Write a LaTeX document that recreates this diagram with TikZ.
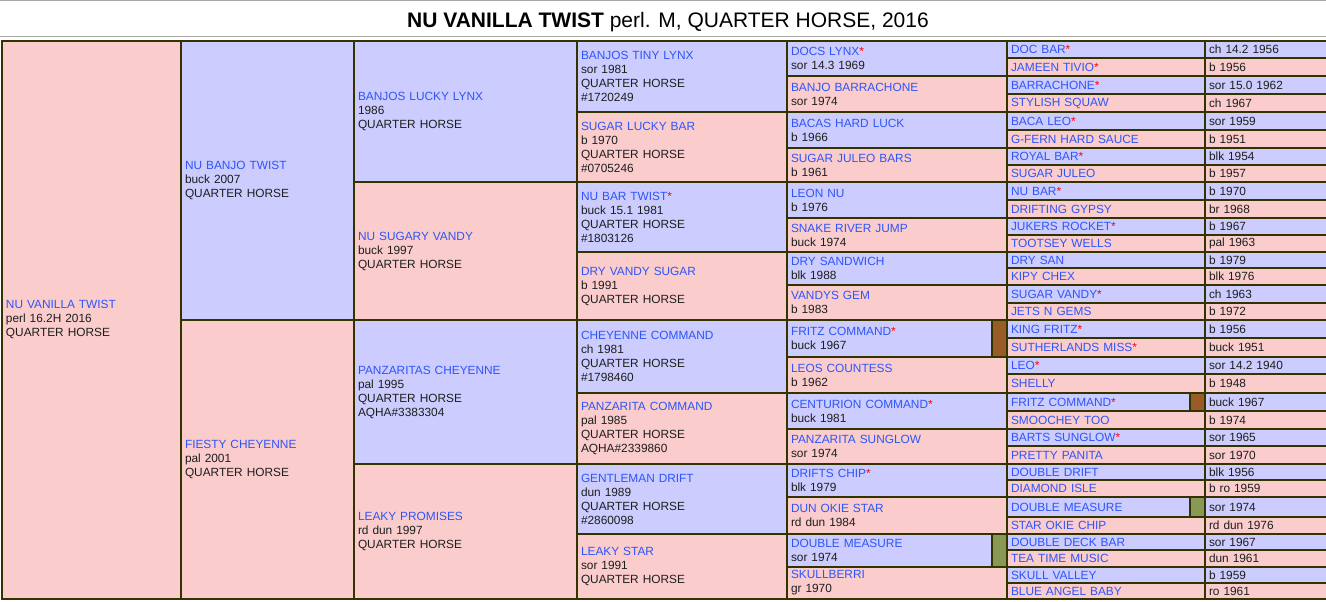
\documentclass[tikz,border=0pt]{standalone}
\usepackage{fontspec}
\setmainfont{Liberation Sans}

\definecolor{sirefill}{RGB}{204,204,255}
\definecolor{damfill}{RGB}{250,204,204}
\definecolor{rim}{RGB}{51,51,0}
\definecolor{link}{RGB}{45,85,250}
\definecolor{ink}{RGB}{30,30,30}
\definecolor{dunmark}{RGB}{153,92,38}
\definecolor{olivemark}{RGB}{136,153,85}
\definecolor{rulegray}{RGB}{170,170,170}

\newcommand\hn[1]{\textcolor{link}{#1}}
\newcommand\st{\textcolor{red}{*}}
% one box of the chart: name, style, x1, y1, x2, y2, text
\newcommand\pcell[7]{%
  \pgfmathsetmacro\cw{(#5-(#3))*0.75}%
  \pgfmathsetmacro\chh{(#6-(#4))*0.75}%
  \pgfmathsetmacro\tw{\cw-6}%
  \node[#2,minimum width=\cw pt,minimum height=\chh pt,text width=\tw pt] (#1) at (#3,#4) {#7};}

\begin{document}
\begin{tikzpicture}[x=0.75pt,y=-0.75pt
	,cell/.style={draw=rim,line width=1.5pt,anchor=north west,inner xsep=3pt,inner ysep=0pt
	  ,align=left,text=ink,font=\fontsize{8.9}{10.5}\selectfont}
	,sire/.style={cell,fill=sirefill}
	,dam/.style={cell,fill=damfill}
	,tagbox/.style={cell,inner xsep=0pt}]
  \useasboundingbox (0,0) rectangle (1326,601);

  \draw[rulegray,line width=1pt] (0,0.7) -- (1326,0.7);
  \draw[rulegray,line width=1pt] (0,36.5) -- (1326,36.5);
  \node[font=\fontsize{15.75}{18}\selectfont] (title) at (668,22)
  	{\textbf{NU VANILLA TWIST} perl. M, QUARTER HORSE, 2016};

  %horse, parents, grandparents
  \pcell{g0}{dam}{1}{39.5}{180}{598}{\hn{NU VANILLA TWIST}\\perl 16.2H 2016\\QUARTER HORSE}
  \pcell{g1a}{sire}{180}{39.5}{353}{319}{\hn{NU BANJO TWIST}\\buck 2007\\QUARTER HORSE}
  \pcell{g1b}{dam}{180}{319}{353}{598}{\hn{FIESTY CHEYENNE}\\pal 2001\\QUARTER HORSE}
  \pcell{g2a}{sire}{353}{39.5}{576}{181}{\hn{BANJOS LUCKY LYNX}\\1986\\QUARTER HORSE}
  \pcell{g2b}{dam}{353}{181}{576}{319}{\hn{NU SUGARY VANDY}\\buck 1997\\QUARTER HORSE}
  \pcell{g2c}{sire}{353}{319}{576}{463}{\hn{PANZARITAS CHEYENNE}\\pal 1995\\QUARTER HORSE\\AQHA\#3383304}
  \pcell{g2d}{dam}{353}{463}{576}{598}{\hn{LEAKY PROMISES}\\rd dun 1997\\QUARTER HORSE}

  %great grandparents
  \pcell{g3a}{sire}{576}{39.5}{786}{111}{\hn{BANJOS TINY LYNX}\\sor 1981\\QUARTER HORSE\\\#1720249}
  \pcell{g3b}{dam}{576}{111}{786}{181}{\hn{SUGAR LUCKY BAR}\\b 1970\\QUARTER HORSE\\\#0705246}
  \pcell{g3c}{sire}{576}{181}{786}{251}{\hn{NU BAR TWIST}\st\\buck 15.1 1981\\QUARTER HORSE\\\#1803126}
  \pcell{g3d}{dam}{576}{251}{786}{319}{\hn{DRY VANDY SUGAR}\\b 1991\\QUARTER HORSE}
  \pcell{g3e}{sire}{576}{319}{786}{392}{\hn{CHEYENNE COMMAND}\\ch 1981\\QUARTER HORSE\\\#1798460}
  \pcell{g3f}{dam}{576}{392}{786}{463}{\hn{PANZARITA COMMAND}\\pal 1985\\QUARTER HORSE\\AQHA\#2339860}
  \pcell{g3g}{sire}{576}{463}{786}{533}{\hn{GENTLEMAN DRIFT}\\dun 1989\\QUARTER HORSE\\\#2860098}
  \pcell{g3h}{dam}{576}{533}{786}{598}{\hn{LEAKY STAR}\\sor 1991\\QUARTER HORSE}

  %4th generation
  \pcell{g4a}{sire}{786}{39.5}{1006}{75}{\hn{DOCS LYNX}\st\\sor 14.3 1969}
  \pcell{g4b}{dam}{786}{75}{1006}{111}{\hn{BANJO BARRACHONE}\\sor 1974}
  \pcell{g4c}{sire}{786}{111}{1006}{147}{\hn{BACAS HARD LUCK}\\b 1966}
  \pcell{g4d}{dam}{786}{147}{1006}{181}{\hn{SUGAR JULEO BARS}\\b 1961}
  \pcell{g4e}{sire}{786}{181}{1006}{217}{\hn{LEON NU}\\b 1976}
  \pcell{g4f}{dam}{786}{217}{1006}{251}{\hn{SNAKE RIVER JUMP}\\buck 1974}
  \pcell{g4g}{sire}{786}{251}{1006}{284}{\hn{DRY SANDWICH}\\blk 1988}
  \pcell{g4h}{dam}{786}{284}{1006}{319}{\hn{VANDYS GEM}\\b 1983}
  \pcell{g4i}{sire}{786}{319}{1006}{356}{\hn{FRITZ COMMAND}\st\\buck 1967}
  \pcell{g4j}{dam}{786}{356}{1006}{392}{\hn{LEOS COUNTESS}\\b 1962}
  \pcell{g4k}{sire}{786}{392}{1006}{428}{\hn{CENTURION COMMAND}\st\\buck 1981}
  \pcell{g4l}{dam}{786}{428}{1006}{463}{\hn{PANZARITA SUNGLOW}\\sor 1974}
  \pcell{g4m}{sire}{786}{463}{1006}{496}{\hn{DRIFTS CHIP}\st\\blk 1979}
  \pcell{g4n}{dam}{786}{496}{1006}{533}{\hn{DUN OKIE STAR}\\rd dun 1984}
  \pcell{g4o}{sire}{786}{533}{1006}{566}{\hn{DOUBLE MEASURE}\\sor 1974}
  \pcell{g4p}{dam}{786}{566}{1006}{598}{\hn{SKULLBERRI}\\gr 1970}

  %5th generation, name and colour/year side by side
  \foreach \nm/\inf/\kind/\ya/\yb [count=\k] in {
  	{DOC BAR\st}/{ch 14.2 1956}/sire/39.5/57,
  	{JAMEEN TIVIO\st}/{b 1956}/dam/57/75,
  	{BARRACHONE\st}/{sor 15.0 1962}/sire/75/93,
  	{STYLISH SQUAW}/{ch 1967}/dam/93/111,
  	{BACA LEO\st}/{sor 1959}/sire/111/129,
  	{G-FERN HARD SAUCE}/{b 1951}/dam/129/147,
  	{ROYAL BAR\st}/{blk 1954}/sire/147/164,
  	{SUGAR JULEO}/{b 1957}/dam/164/181,
  	{NU BAR\st}/{b 1970}/sire/181/199,
  	{DRIFTING GYPSY}/{br 1968}/dam/199/217,
  	{JUKERS ROCKET\st}/{b 1967}/sire/217/234,
  	{TOOTSEY WELLS}/{pal 1963}/dam/234/251,
  	{DRY SAN}/{b 1979}/sire/251/267,
  	{KIPY CHEX}/{blk 1976}/dam/267/284,
  	{SUGAR VANDY\st}/{ch 1963}/sire/284/302,
  	{JETS N GEMS}/{b 1972}/dam/302/319,
  	{KING FRITZ\st}/{b 1956}/sire/319/337,
  	{SUTHERLANDS MISS\st}/{buck 1951}/dam/337/356,
  	{LEO\st}/{sor 14.2 1940}/sire/356/373,
  	{SHELLY}/{b 1948}/dam/373/392,
  	{FRITZ COMMAND\st}/{buck 1967}/sire/392/410,
  	{SMOOCHEY TOO}/{b 1974}/dam/410/428,
  	{BARTS SUNGLOW\st}/{sor 1965}/sire/428/445,
  	{PRETTY PANITA}/{sor 1970}/dam/445/463,
  	{DOUBLE DRIFT}/{blk 1956}/sire/463/479,
  	{DIAMOND ISLE}/{b ro 1959}/dam/479/496,
  	{DOUBLE MEASURE}/{sor 1974}/sire/496/516,
  	{STAR OKIE CHIP}/{rd dun 1976}/dam/516/533,
  	{DOUBLE DECK BAR}/{sor 1967}/sire/533/549,
  	{TEA TIME MUSIC}/{dun 1961}/dam/549/566,
  	{SKULL VALLEY}/{b 1959}/sire/566/582,
  	{BLUE ANGEL BABY}/{ro 1961}/dam/582/598}
  {
  	\pcell{g5n\k}{\kind}{1006}{\ya}{1204}{\yb}{\hn{\nm}}
  	\pcell{g5i\k}{\kind}{1204}{\ya}{1330}{\yb}{\inf}
  }

  %coloured tags for repeated horses
  \pcell{tagfa}{tagbox,fill=dunmark}{991}{319}{1006}{356}{}
  \pcell{tagfb}{tagbox,fill=dunmark}{1189}{392}{1204}{410}{}
  \pcell{tagda}{tagbox,fill=olivemark}{991}{533}{1006}{566}{}
  \pcell{tagdb}{tagbox,fill=olivemark}{1189}{496}{1204}{516}{}

\end{tikzpicture}
\end{document}
